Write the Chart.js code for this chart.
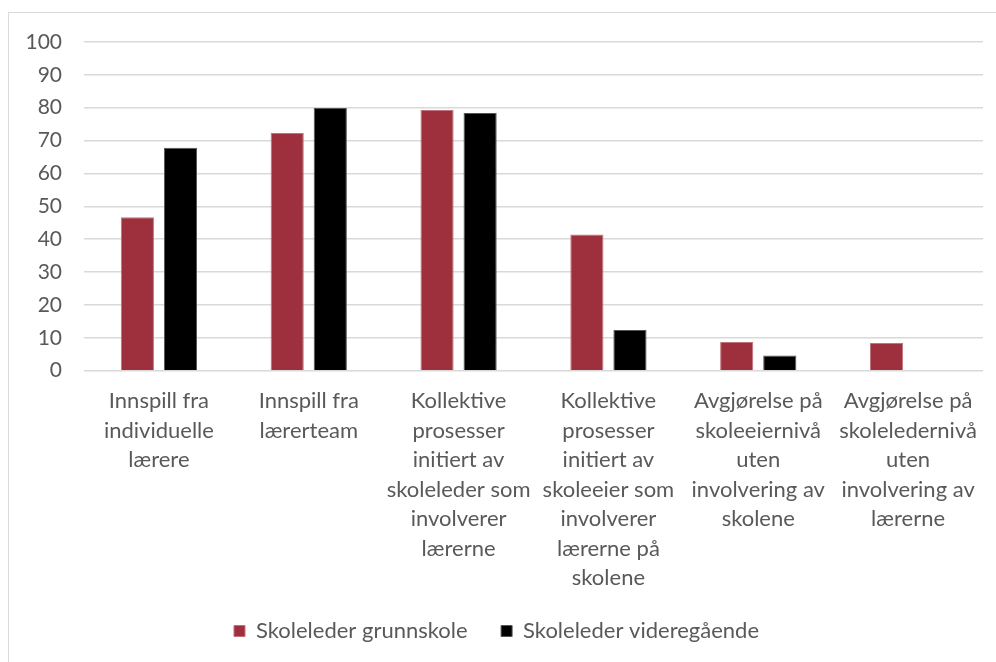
<!DOCTYPE html>
<html>
<head>
<meta charset="utf-8">
<script src="https://cdn.jsdelivr.net/npm/chart.js@4"></script>
<style>
  html, body { margin: 0; padding: 0; background: #fff; }
  #wrap { position: relative; width: 996px; height: 662px; overflow: hidden; }
  #frame { position: absolute; left: 8px; top: 12px; width: 1000px; height: 700px; border: 1px solid #d9d9d9; box-sizing: border-box; }
  canvas { position: absolute; left: 0; top: 0; }
</style>
</head>
<body>
<div id="wrap">
  <div id="frame"></div>
  <canvas id="chart" width="996" height="662"></canvas>
</div>
<script>
// kategorier (linjeskift som i originalen)
const categories = [
  ["Innspill fra", "individuelle", "lærere"],
  ["Innspill fra", "lærerteam"],
  ["Kollektive", "prosesser", "initiert av", "skoleleder som", "involverer", "lærerne"],
  ["Kollektive", "prosesser", "initiert av", "skoleeier som", "involverer", "lærerne på", "skolene"],
  ["Avgjørelse på", "skoleeiernivå", "uten", "involvering av", "skolene"],
  ["Avgjørelse på", "skoleledernivå", "uten", "involvering av", "lærerne"]
];
const grunnskole = [46.7, 72.3, 79.3, 41.4, 8.7, 8.4];
const videregaende = [67.8, 79.9, 78.4, 12.4, 4.6, null];
const yTicks = [0, 10, 20, 30, 40, 50, 60, 70, 80, 90, 100];

const FONT = "Lato, 'Noto Sans', sans-serif";
const TEXT = '#595959';
const GRID = '#d9d9d9';

const ctx = document.getElementById('chart');
new Chart(ctx, {
  type: 'bar',
  data: {
    labels: categories,
    datasets: [{
      label: 'Skoleleder grunnskole',
      data: grunnskole,
      backgroundColor: '#9e2f3d',
      borderColor: '#c0737c',
      borderWidth: 1,
      categoryPercentage: 0.575,
      barPercentage: 0.77
    }, {
      label: 'Skoleleder videregående',
      data: videregaende,
      backgroundColor: '#000000',
      borderColor: '#555555',
      borderWidth: 1,
      categoryPercentage: 0.575,
      barPercentage: 0.77
    }]
  },
  options: {
    responsive: false,
    animation: false,
    layout: { padding: { top: 42, right: 13, bottom: 10, left: 10 } },
    scales: {
      x: {
        grid: { display: false, drawTicks: false },
        border: { display: false },
        ticks: {
          color: TEXT,
          font: { family: FONT, size: 22, lineHeight: 1.34 },
          maxRotation: 0, autoSkip: false, padding: 16
        }
      },
      y: {
        min: 0, max: 100,
        afterBuildTicks: (scale) => { scale.ticks = yTicks.map(v => ({ value: v })); },
        afterFit: (scale) => { scale.width = 74; },
        grid: { color: GRID, lineWidth: 1.5, drawTicks: false },
        border: { display: false },
        ticks: {
          color: TEXT,
          font: { family: FONT, size: 21 },
          padding: 22
        }
      }
    },
    plugins: {
      tooltip: { enabled: false },
      legend: {
        position: 'bottom',
        labels: {
          color: TEXT,
          font: { family: FONT, size: 22 },
          boxWidth: 11, boxHeight: 11,
          padding: 11,
          useBorderRadius: false,
          // litt mer luft mellom de to forklaringene
          generateLabels: (chart) => {
            const items = Chart.defaults.plugins.legend.labels.generateLabels(chart);
            items[0].text = items[0].text + '    ';
            return items;
          }
        }
      }
    }
  }
});
</script>
</body>
</html>
